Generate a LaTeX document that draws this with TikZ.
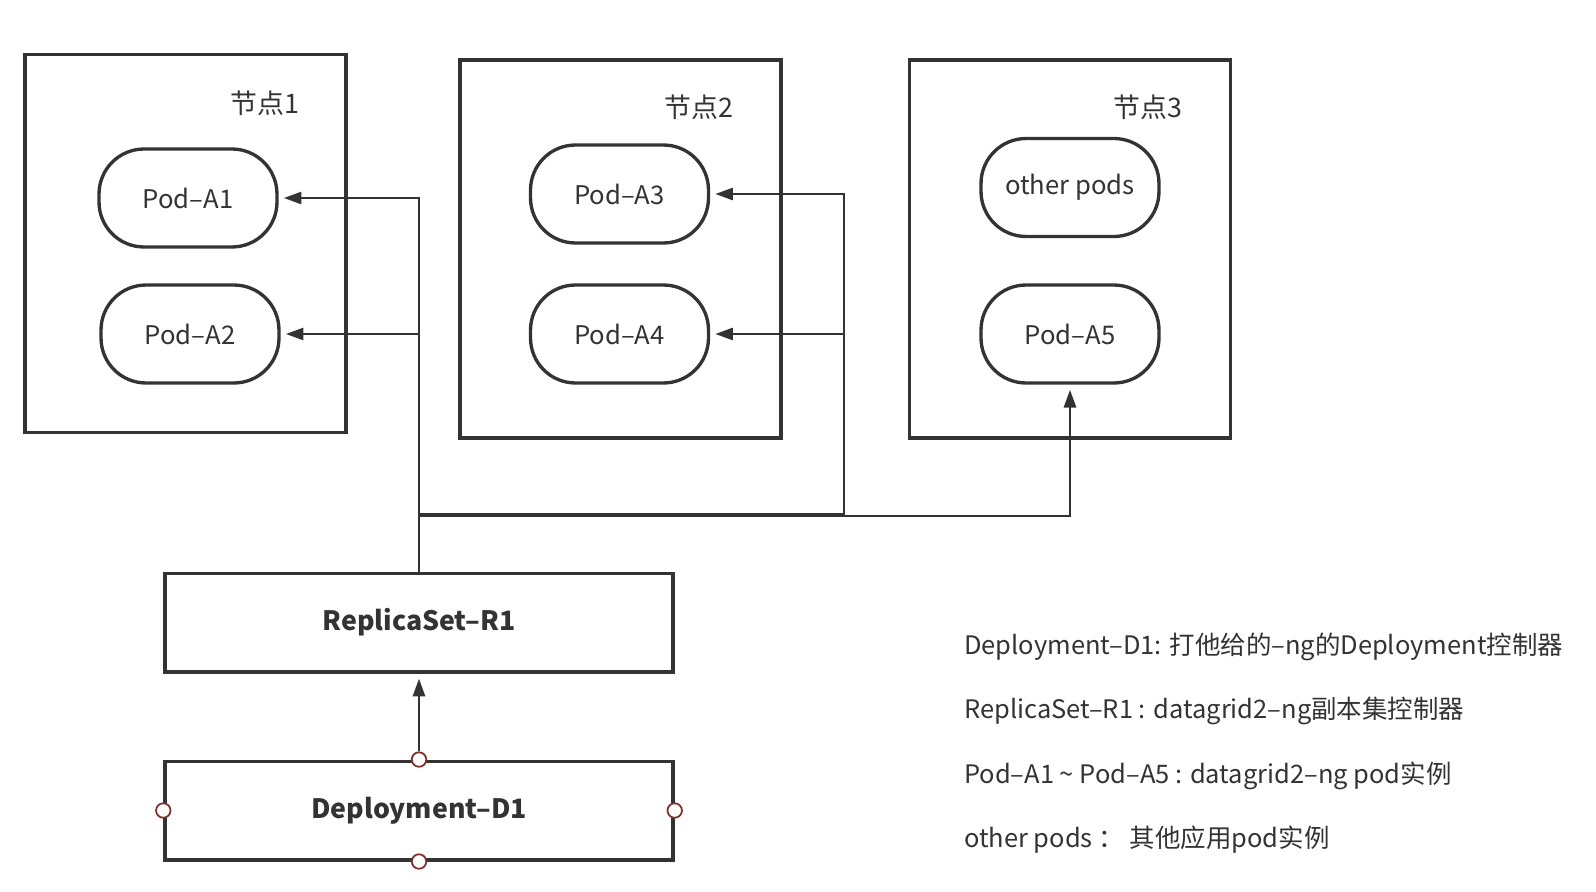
\documentclass[tikz,border=0pt]{standalone}
\usepackage{fontspec}
\setmainfont{Noto Sans CJK SC}
\usetikzlibrary{arrows.meta,positioning}
\definecolor{ink}{HTML}{333333}
\definecolor{port}{HTML}{7E2F2B}
\tikzset{hostbox/.style={draw=ink,line width=2pt,minimum width=6.42cm,minimum height=7.57cm},
 podbox/.style={draw=ink,line width=1.9pt,rounded corners=0.9cm,minimum width=3.56cm,minimum height=1.96cm,font=\fontsize{14.6}{17}\selectfont,text=ink},
 ctrlbox/.style={draw=ink,line width=2pt,minimum width=10.16cm,minimum height=1.97cm,font=\fontsize{15.2}{17}\selectfont\bfseries,text=ink},
 hosttitle/.style={font=\fontsize{15.3}{18}\selectfont,text=ink},
 link/.style={draw=ink,line width=1.1pt,-{Triangle[length=10pt,width=7pt]},shorten >=3pt},
 portdot/.style={circle,draw=port,fill=white,line width=1pt,inner sep=0pt,minimum size=0.29cm},
 legend/.style={anchor=west,font=\fontsize{14.5}{17}\selectfont,text=ink}}
\begin{document}
\begin{tikzpicture}[x=0.02cm,y=-0.02cm]
\useasboundingbox (0,0) rectangle (1596,892);
% hosts
\node[hostbox] (n1) at (185.7,243.5) {};
\node[hostbox] (n2) at (620.5,249) {};
\node[hostbox] (n3) at (1070,249) {};
\node[hosttitle] (t1) at (265,103) {节点1};
\node[hosttitle] (t2) at (699,107) {节点2};
\node[hosttitle] (t3) at (1148,107) {节点3};
% pods
\node[podbox] (a1) at (188,198) {Pod–A1};
\node[podbox] (a2) at (190,334) {Pod–A2};
\node[podbox] (a3) at (619.5,194) {Pod–A3};
\node[podbox] (a4) at (619.5,334) {Pod–A4};
\node[podbox] (op) at (1070,187.5) {other pods};
\node[podbox] (a5) at (1070,334) {Pod–A5};
% controllers
\node[ctrlbox] (rs) at (419,622.5) {ReplicaSet–R1};
\node[ctrlbox] (dp) at (419,810.5) {Deployment–D1};
\foreach \a in {north,south,east,west}
  \node[portdot] (dp-\a) at (dp.\a) {};
% wiring
\coordinate (j1) at (844,514);
\coordinate (j2) at (419,516);
\draw[link] (rs.north) |- (a1.east);
\draw[link] (rs.north) |- (a2.east);
\draw[link] (rs.north) |- (j1) |- (a3.east);
\draw[link] (j1) |- (a4.east);
\draw[link] (rs.north) -- (j2) -| (a5.south);
\draw[link] (dp-north) -- (rs.south);
% legend
\node[legend] (l1) at (958,647) {Deployment–D1: 打他给的–ng的Deployment控制器};
\node[legend] (l2) at (958,711) {ReplicaSet–R1 : datagrid2–ng副本集控制器};
\node[legend] (l3) at (958,776) {Pod–A1 \textasciitilde{} Pod–A5 : datagrid2–ng pod实例};
\node[legend] (l4) at (958,840) {other pods ：\ 其他应用pod实例};
\end{tikzpicture}
\end{document}
